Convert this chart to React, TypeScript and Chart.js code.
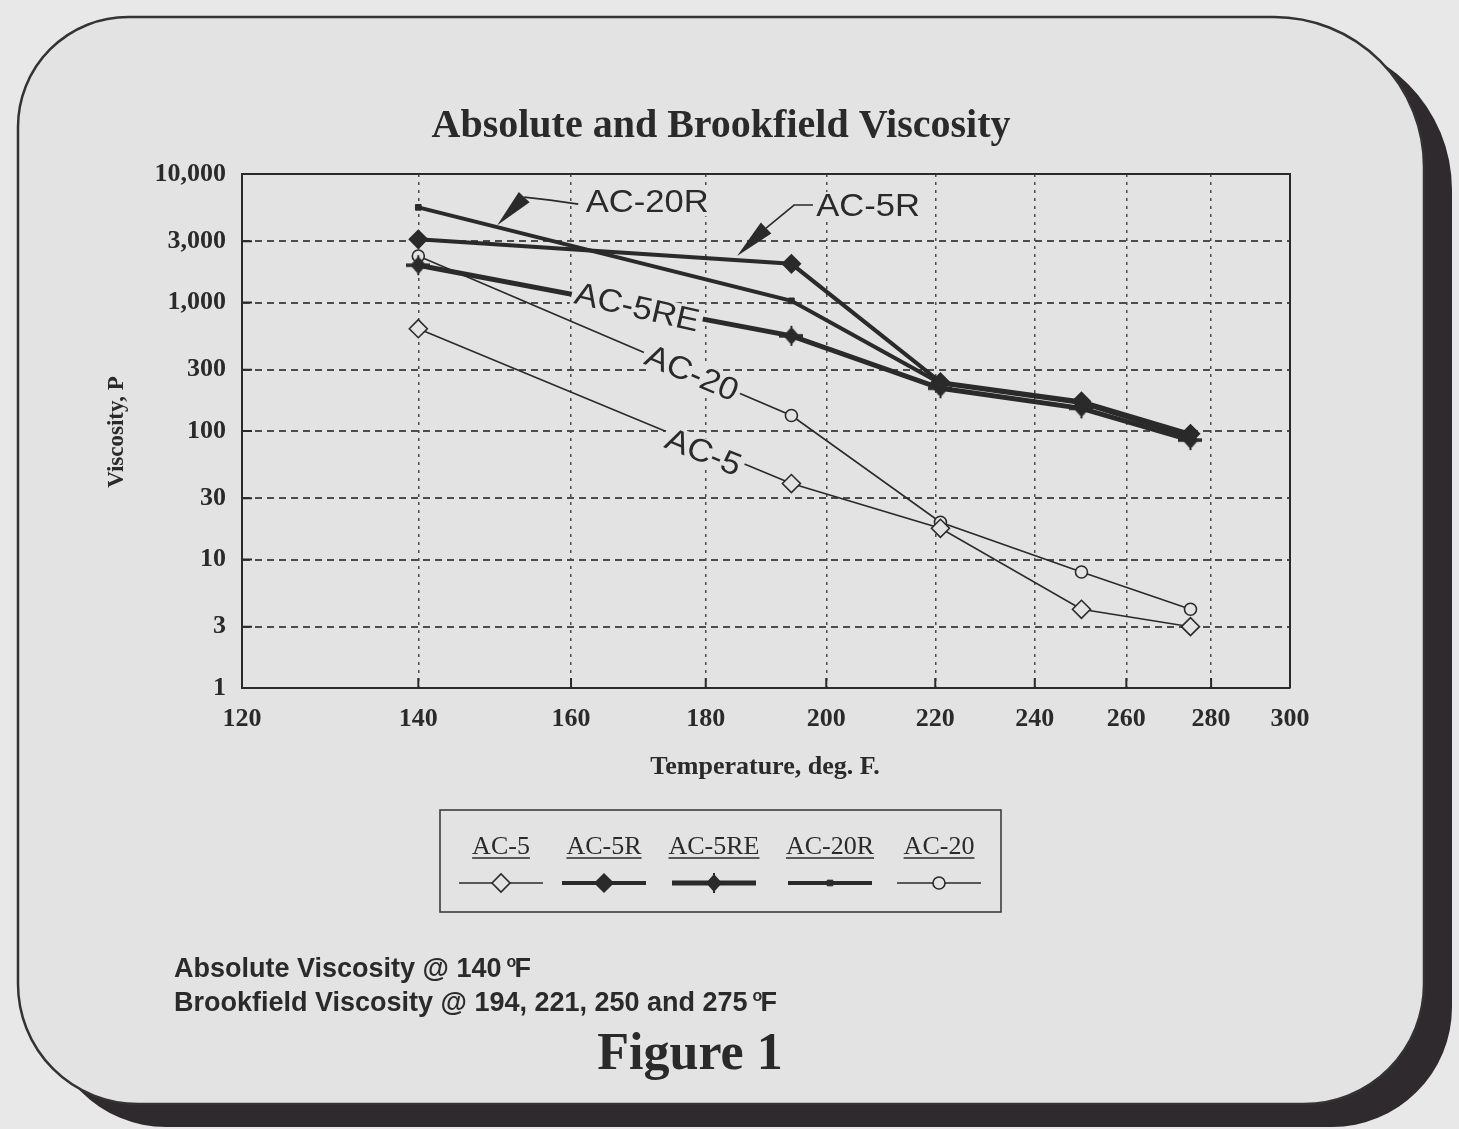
import React, { useEffect, useRef } from "react";
import { Chart, registerables } from "chart.js";

Chart.register(...registerables);

const W = 1459;
const H = 1129;

// ---------- data ----------
const temperatures = [140, 194, 221, 250, 275];
const seriesLabels = ["AC-5", "AC-5R", "AC-5RE", "AC-20R", "AC-20"];
const ac5Values = [625, 39, 17.5, 4.1, 3.0];
const ac5RValues = [3100, 2000, 240, 170, 95];
const ac5REValues = [1950, 550, 215, 150, 85];
const ac20RValues = [5500, 1030, 235, 165, 90];
const ac20Values = [2300, 132, 19.5, 8.0, 4.1];
const xTickValues = [120, 140, 160, 180, 200, 220, 240, 260, 280, 300];
const yTickValues = [1, 3, 10, 30, 100, 300, 1000, 3000, 10000];

const chartTitle = "Absolute and Brookfield Viscosity";
const xAxisTitle = "Temperature, deg. F.";
const yAxisTitle = "Viscosity, P";
const footnotes = ["Absolute Viscosity @ 140", "Brookfield Viscosity @ 194, 221, 250 and 275"];
const figureCaption = "Figure 1";

// ---------- styling ----------
const INK = "#2a2a2a";
const GRID = "#4c4c4c";
const CARD = "#e3e3e3";
const PAGE = "#e8e8e8";
const SHADOW = "#2e2a2e";
const SERIF = '"Liberation Serif", "Times New Roman", serif';
const SANS = '"Liberation Sans", Arial, sans-serif';

const calloutLabels = [
  { text: "AC-20R", at: { x: 150, y: 4000 }, textOffset: [150, -23], leader: [[81, -21], [53, -25], [27, -28]] },
  { text: "AC-5R", at: { x: 185, y: 2300 }, textOffset: [131, -50], leader: [[78, -51], [57, -51], [29, -28]] },
];
const inlineLabels = [
  { text: "AC-5RE", at: { x: 169.5, y: 910 }, angle: 13 },
  { text: "AC-20", at: { x: 177.8, y: 280 }, angle: 23 },
  { text: "AC-5", at: { x: 179.6, y: 68 }, angle: 22 },
];

function makeStarMarker(): HTMLCanvasElement {
  const c = document.createElement("canvas");
  c.width = 24;
  c.height = 24;
  const g = c.getContext("2d")!;
  g.fillStyle = INK;
  g.strokeStyle = INK;
  g.beginPath();
  g.moveTo(12, 3);
  g.lineTo(20, 12);
  g.lineTo(12, 21);
  g.lineTo(4, 12);
  g.closePath();
  g.fill();
  g.lineWidth = 3.5;
  g.beginPath();
  g.moveTo(0, 12);
  g.lineTo(24, 12);
  g.stroke();
  g.lineWidth = 2;
  g.beginPath();
  g.moveTo(12, 2);
  g.lineTo(12, 22);
  g.stroke();
  return c;
}

function drawMarker(ctx: CanvasRenderingContext2D, style: any, x: number, y: number, r: number, fill: string, stroke: string, bw: number) {
  if (typeof style !== "string") {
    ctx.drawImage(style, x - style.width / 2, y - style.height / 2);
    return;
  }
  ctx.beginPath();
  if (style === "circle") ctx.arc(x, y, r, 0, Math.PI * 2);
  else if (style === "rectRot") {
    ctx.moveTo(x - r, y);
    ctx.lineTo(x, y - r);
    ctx.lineTo(x + r, y);
    ctx.lineTo(x, y + r);
    ctx.closePath();
  } else {
    const s = Math.SQRT1_2 * r;
    ctx.rect(x - s, y - s, 2 * s, 2 * s);
  }
  ctx.fillStyle = fill;
  ctx.fill();
  ctx.lineWidth = bw;
  ctx.strokeStyle = stroke;
  ctx.stroke();
}

function arrowHead(ctx: CanvasRenderingContext2D, bx: number, by: number, tx: number, ty: number, width: number) {
  const dx = tx - bx;
  const dy = ty - by;
  const L = Math.hypot(dx, dy);
  const nx = -dy / L;
  const ny = dx / L;
  ctx.beginPath();
  ctx.moveTo(tx, ty);
  ctx.lineTo(bx + (nx * width) / 2, by + (ny * width) / 2);
  ctx.lineTo(bx - (nx * width) / 2, by - (ny * width) / 2);
  ctx.closePath();
  ctx.fill();
}

const decorPlugin = {
  id: "decor",
  beforeDraw(chart: any) {
    const ctx: CanvasRenderingContext2D = chart.ctx;
    ctx.save();
    ctx.fillStyle = PAGE;
    ctx.fillRect(0, 0, W, H);
    const radii = [110, 150, 120, 120];
    ctx.beginPath();
    (ctx as any).roundRect(46, 40, 1406, 1087, radii);
    ctx.fillStyle = SHADOW;
    ctx.fill();
    ctx.beginPath();
    (ctx as any).roundRect(18, 17, 1406, 1087, radii);
    ctx.fillStyle = CARD;
    ctx.fill();
    ctx.lineWidth = 2.5;
    ctx.strokeStyle = "#333";
    ctx.stroke();
    ctx.restore();
  },
  beforeDatasetsDraw(chart: any) {
    const ctx: CanvasRenderingContext2D = chart.ctx;
    const { left, right, top, bottom } = chart.chartArea;
    const xs = chart.scales.x;
    const ys = chart.scales.y;
    ctx.save();
    ctx.strokeStyle = INK;
    ctx.lineWidth = 2;
    ctx.beginPath();
    xTickValues.slice(1, -1).forEach((v) => {
      const px = xs.getPixelForValue(v);
      ctx.moveTo(px, bottom);
      ctx.lineTo(px, bottom - 10);
    });
    yTickValues.slice(1, -1).forEach((v) => {
      const py = ys.getPixelForValue(v);
      ctx.moveTo(left, py);
      ctx.lineTo(left + 10, py);
    });
    ctx.stroke();
    ctx.beginPath();
    ctx.moveTo(left, top);
    ctx.lineTo(right, top);
    ctx.lineTo(right, bottom);
    ctx.stroke();
    ctx.restore();
  },
  afterDatasetsDraw(chart: any) {
    const ctx: CanvasRenderingContext2D = chart.ctx;
    const xs = chart.scales.x;
    const ys = chart.scales.y;
    const drawLabel = (text: string, cx: number, cy: number, angle: number) => {
      ctx.save();
      ctx.translate(cx, cy);
      ctx.rotate((angle * Math.PI) / 180);
      ctx.scale(1.08, 1);
      ctx.font = `32px ${SANS}`;
      const w = ctx.measureText(text).width;
      ctx.fillStyle = CARD;
      ctx.fillRect(-w / 2 - 3, -14, w + 6, 28);
      ctx.fillStyle = INK;
      ctx.textAlign = "center";
      ctx.textBaseline = "middle";
      ctx.fillText(text, 0, 1);
      ctx.restore();
    };
    calloutLabels.forEach((c) => {
      const tx = xs.getPixelForValue(c.at.x);
      const ty = ys.getPixelForValue(c.at.y);
      ctx.save();
      ctx.strokeStyle = INK;
      ctx.fillStyle = INK;
      ctx.lineWidth = 1.6;
      ctx.beginPath();
      c.leader.forEach((p, i) => {
        if (i === 0) ctx.moveTo(tx + p[0], ty + p[1]);
        else ctx.lineTo(tx + p[0], ty + p[1]);
      });
      ctx.stroke();
      const last = c.leader[c.leader.length - 1];
      arrowHead(ctx, tx + last[0], ty + last[1], tx, ty, 15);
      ctx.restore();
      drawLabel(c.text, tx + c.textOffset[0], ty + c.textOffset[1], 0);
    });
    inlineLabels.forEach((l) => {
      drawLabel(l.text, xs.getPixelForValue(l.at.x), ys.getPixelForValue(l.at.y), l.angle);
    });
  },
  afterDraw(chart: any) {
    const ctx: CanvasRenderingContext2D = chart.ctx;
    ctx.save();
    ctx.fillStyle = INK;
    ctx.textBaseline = "alphabetic";

    // title
    ctx.textAlign = "center";
    ctx.font = `bold 40px ${SERIF}`;
    ctx.fillText(chartTitle, 721, 137);

    // x-axis title
    ctx.font = `bold 26px ${SERIF}`;
    ctx.fillText(xAxisTitle, 765, 774);

    // y-axis title
    ctx.save();
    ctx.translate(117, 432);
    ctx.rotate(-Math.PI / 2);
    ctx.font = `bold 23px ${SERIF}`;
    ctx.textBaseline = "middle";
    ctx.fillText(yAxisTitle, 0, 0);
    ctx.restore();

    // legend
    const box = { x: 440, y: 810, w: 561, h: 102 };
    const centers = [501, 604, 714, 830, 939];
    ctx.lineWidth = 1.6;
    ctx.strokeStyle = "#3c3c3c";
    ctx.strokeRect(box.x, box.y, box.w, box.h);
    ctx.font = `26px ${SERIF}`;
    chart.data.datasets.forEach((ds: any, i: number) => {
      const cx = centers[i];
      ctx.fillStyle = INK;
      ctx.textAlign = "center";
      ctx.fillText(ds.label, cx, 854);
      const tw = ctx.measureText(ds.label).width;
      ctx.lineWidth = 1.3;
      ctx.strokeStyle = INK;
      ctx.beginPath();
      ctx.moveTo(cx - tw / 2, 858);
      ctx.lineTo(cx + tw / 2, 858);
      ctx.stroke();
      ctx.lineWidth = ds.borderWidth;
      ctx.beginPath();
      ctx.moveTo(cx - 42, 883);
      ctx.lineTo(cx + 42, 883);
      ctx.stroke();
      drawMarker(ctx, ds.pointStyle, cx, 883, ds.pointRadius, ds.pointBackgroundColor, INK, ds.pointBorderWidth || 1.5);
    });

    // footnotes
    ctx.fillStyle = INK;
    ctx.textAlign = "left";
    footnotes.forEach((t, i) => {
      const y = 977 + i * 34;
      ctx.font = `bold 27px ${SANS}`;
      ctx.fillText(t, 174, y);
      const x = 174 + ctx.measureText(t).width + 5;
      ctx.font = `bold 16px ${SANS}`;
      ctx.fillText("o", x, y - 10);
      ctx.font = `bold 27px ${SANS}`;
      ctx.fillText("F", x + 8, y);
    });

    // caption
    ctx.textAlign = "center";
    ctx.font = `bold 52px ${SERIF}`;
    ctx.fillText(figureCaption, 690, 1069);
    ctx.restore();
  },
};

export default function App() {
  const ref = useRef<HTMLCanvasElement>(null);
  useEffect(() => {
    const star = makeStarMarker();
    const toPoints = (vals: number[]) => temperatures.map((t, i) => ({ x: t, y: vals[i] }));
    const seriesValues = [ac5Values, ac5RValues, ac5REValues, ac20RValues, ac20Values];
    const styles = [
      { borderWidth: 1.6, pointStyle: "rectRot", pointRadius: 9, pointBackgroundColor: CARD, pointBorderWidth: 1.6 },
      { borderWidth: 4, pointStyle: "rectRot", pointRadius: 9, pointBackgroundColor: INK, pointBorderWidth: 1.5 },
      { borderWidth: 5, pointStyle: star, pointRadius: 10, pointBackgroundColor: INK, pointBorderWidth: 1.5 },
      { borderWidth: 4, pointStyle: "rect", pointRadius: 4, pointBackgroundColor: INK, pointBorderWidth: 1 },
      { borderWidth: 1.6, pointStyle: "circle", pointRadius: 6, pointBackgroundColor: CARD, pointBorderWidth: 1.6 },
    ];
    const datasets = seriesLabels.map((label, i) => ({
      label,
      data: toPoints(seriesValues[i]),
      borderColor: INK,
      pointBorderColor: INK,
      tension: 0,
      fill: false,
      ...styles[i],
    }));

    const chart = new Chart(ref.current!, {
      type: "line",
      data: { datasets } as any,
      options: {
        responsive: false,
        maintainAspectRatio: false,
        devicePixelRatio: 1,
        animation: false,
        layout: { padding: { left: 150, top: 174, right: 169, bottom: 401 } },
        plugins: { legend: { display: false }, tooltip: { enabled: false }, title: { display: false } },
        scales: {
          x: {
            type: "logarithmic",
            min: 120,
            max: 300,
            position: "bottom",
            afterBuildTicks: (s: any) => {
              s.ticks = xTickValues.map((v) => ({ value: v }));
            },
            afterFit: (s: any) => {
              s.height = 40;
            },
            ticks: {
              autoSkip: false,
              maxRotation: 0,
              minRotation: 0,
              padding: 16,
              color: INK,
              font: { family: SERIF, size: 26, weight: "bold" },
              callback: (v: any) => String(v),
            },
            grid: { color: GRID, lineWidth: 1.5, drawTicks: false },
            border: { display: true, color: INK, width: 2, dash: [3, 5] },
          },
          y: {
            type: "logarithmic",
            min: 1,
            max: 10000,
            afterBuildTicks: (s: any) => {
              s.ticks = yTickValues.map((v) => ({ value: v }));
            },
            afterFit: (s: any) => {
              s.width = 92;
            },
            ticks: {
              autoSkip: false,
              padding: 16,
              color: INK,
              font: { family: SERIF, size: 26, weight: "bold" },
              callback: (v: any) => Number(v).toLocaleString("en-US"),
            },
            grid: { color: GRID, lineWidth: 2, drawTicks: false },
            border: { display: true, color: INK, width: 2, dash: [7, 5] },
          },
        },
      } as any,
      plugins: [decorPlugin as any],
    });
    return () => chart.destroy();
  }, []);
  return (
    <div style={{ position: "absolute", left: 0, top: 0, width: W, height: H }}>
      <canvas ref={ref} width={W} height={H} style={{ display: "block", width: W, height: H }} />
    </div>
  );
}
